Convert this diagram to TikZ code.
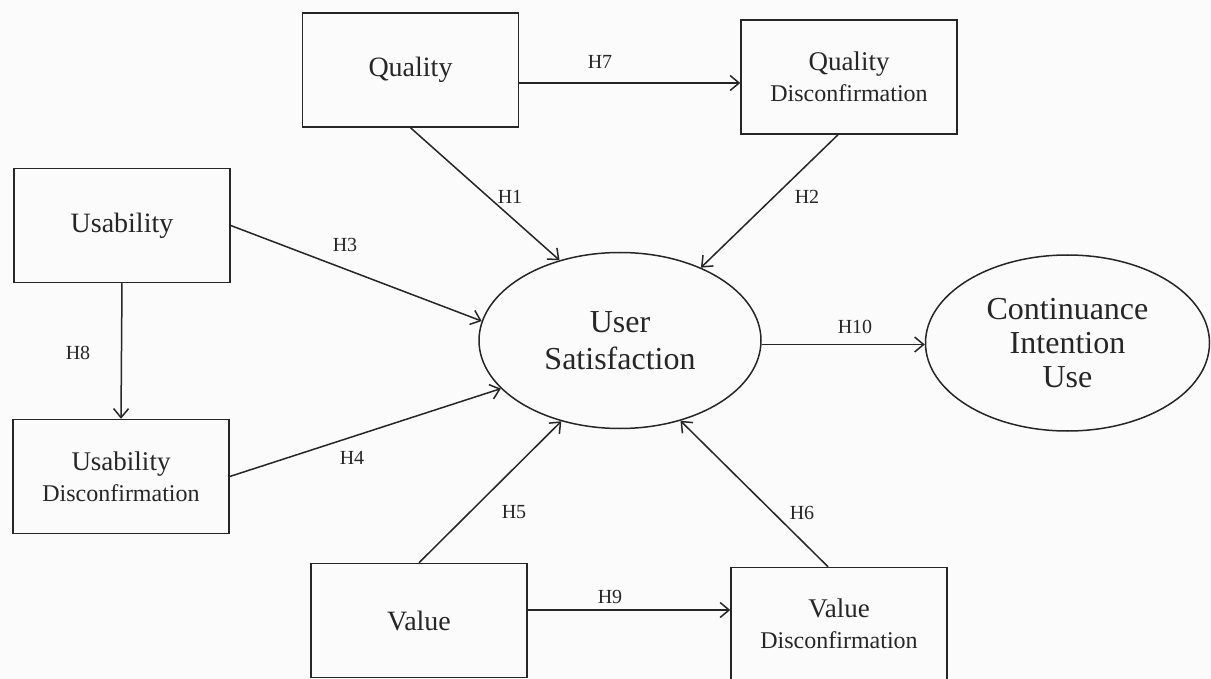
\documentclass[tikz,border=0pt]{standalone}
\usepackage{fontspec}
\setmainfont{Liberation Serif}
\usetikzlibrary{arrows.meta,shapes.geometric}
\definecolor{ink}{HTML}{262626}
\definecolor{paper}{HTML}{FBFBFB}
\begin{document}
\begin{tikzpicture}[x=1pt,y=-1pt,
  box/.style={draw=ink, line width=1.5pt, minimum width=216pt, minimum height=114pt,
    inner sep=0pt, align=center, text=ink, font=\fontsize{28}{31}\selectfont},
  discbox/.style={box, font=\fontsize{24}{31}\selectfont},
  oval/.style={draw=ink, line width=1.5pt, ellipse, minimum width=282pt, minimum height=176pt,
    inner sep=0pt, align=center, text=ink, font=\fontsize{32}{37}\selectfont},
  link/.style={draw=ink, line width=1.5pt,
    -{Straight Barb[length=9pt,width=15pt,line width=1.5pt]}},
  hyp/.style={text=ink, font=\fontsize{20}{24}\selectfont, inner sep=0pt}]

% page
\fill[paper] (0,0) rectangle (1211,679);
\useasboundingbox (0,0) rectangle (1211,679);

% constructs
\node[box] (Q) at (410.5,70) {Quality};
\node[discbox] (QD) at (849,77) {{\fontsize{27}{31}\selectfont Quality}\\Disconfirmation};
\node[box] (U) at (122,225.5) {Usability};
\node[discbox] (UD) at (121,476.5) {{\fontsize{27}{31}\selectfont Usability}\\Disconfirmation};
\node[box] (V) at (419,620.5) {Value};
\node[discbox, minimum height=112pt] (VD) at (839,623.5) {{\fontsize{27}{31}\selectfont Value}\\Disconfirmation};
\node[oval] (US) at (620,340.5) {User\\Satisfaction};
\node[oval, minimum width=284pt, font=\fontsize{32}{34}\selectfont] (CI) at (1067.5,343) {Continuance\\Intention\\Use};

% hypothesised paths
\draw[link] (Q.south) -- (US.127);
\draw[link] ([xshift=-11pt]QD.south) -- (US.42);
\draw[link] (U.east) -- (US.172);
\draw[link] (UD.east) -- (US.202);
\draw[link] (V.north) -- (US.234);
\draw[link] ([xshift=-11pt]VD.north) -- (US.307);
\coordinate (h10) at ([yshift=-4pt]US.east);
\draw[link] (h10) -- (h10 -| CI.west);
\draw[link] (U.south) -- (UD.north);
\coordinate (h7) at ([yshift=-13pt]Q.east);
\draw[link] (h7) -- (h7 -| QD.west);
\coordinate (h9) at ([yshift=10.5pt]V.east);
\draw[link] (h9) -- (h9 -| VD.west);

% path labels
\node[hyp] (l1) at (510,197) {H1};
\node[hyp] (l2) at (807,197) {H2};
\node[hyp] (l3) at (345,245) {H3};
\node[hyp] (l4) at (352,458) {H4};
\node[hyp] (l5) at (514,512) {H5};
\node[hyp] (l6) at (802,513) {H6};
\node[hyp] (l7) at (600,62) {H7};
\node[hyp] (l8) at (78,353) {H8};
\node[hyp] (l9) at (610,597) {H9};
\node[hyp] (l10) at (855,327) {H10};
\end{tikzpicture}
\end{document}
